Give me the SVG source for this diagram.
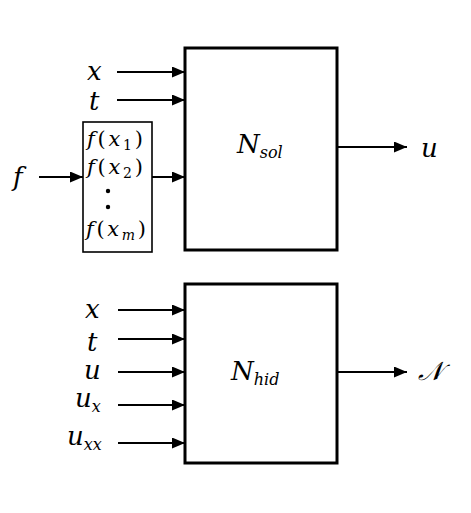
<svg xmlns="http://www.w3.org/2000/svg" width="471" height="513" viewBox="0 0 471 513">
<style>
.m{font-family:"DejaVu Serif","Liberation Serif",serif;font-style:italic;fill:#000}
.big{font-size:26px}
.mid{font-size:21px}
.sub{font-size:16px}
.ss{font-size:14px}
.n{font-style:normal}
.c{stroke:#000;stroke-width:2;fill:none}
.box{stroke:#000;stroke-width:3;fill:#fff}
</style>
<defs>
<marker id="ah" markerWidth="13" markerHeight="11" refX="13" refY="5.5" orient="auto" markerUnits="userSpaceOnUse">
<path d="M0,0 L13,5.5 L0,11 Z" fill="#000"/>
</marker>
</defs>
<g id="connectors">
<line class="c" x1="117" y1="72" x2="185" y2="72" marker-end="url(#ah)"/>
<line class="c" x1="117" y1="100" x2="185" y2="100" marker-end="url(#ah)"/>
<line class="c" x1="39" y1="177" x2="83" y2="177" marker-end="url(#ah)"/>
<line class="c" x1="152" y1="177" x2="185" y2="177" marker-end="url(#ah)"/>
<line class="c" x1="338" y1="147" x2="407" y2="147" marker-end="url(#ah)"/>
<line class="c" x1="118" y1="310" x2="185" y2="310" marker-end="url(#ah)"/>
<line class="c" x1="118" y1="339" x2="185" y2="339" marker-end="url(#ah)"/>
<line class="c" x1="118" y1="372" x2="185" y2="372" marker-end="url(#ah)"/>
<line class="c" x1="118" y1="405" x2="185" y2="405" marker-end="url(#ah)"/>
<line class="c" x1="118" y1="443" x2="185" y2="443" marker-end="url(#ah)"/>
<line class="c" x1="338" y1="372" x2="407" y2="372" marker-end="url(#ah)"/>
</g>
<g id="labels">
<text class="m big" x="87" y="80">x</text>
<text class="m big" x="89" y="110">t</text>
<text class="m big" x="13" y="186">f</text>
<text class="m big" x="421" y="157">u</text>
<text class="m big" x="85" y="318">x</text>
<text class="m big" x="87" y="351">t</text>
<text class="m big" x="84" y="379">u</text>
<text class="m big" x="75" y="407">u<tspan class="sub" dy="5">x</tspan></text>
<text class="m big" x="67" y="445">u<tspan class="sub" dy="5">xx</tspan></text>
<text class="m big" x="418" y="380">𝒩</text>
</g>
<g id="fbox">
<rect x="83" y="122" width="69" height="130" fill="#fff" stroke="#000" stroke-width="1.6"/>
<text class="m mid" x="87" y="146" textLength="56" lengthAdjust="spacing">f<tspan class="n">(</tspan>x<tspan class="ss n" dy="4">1</tspan><tspan class="n" dy="-4">)</tspan></text>
<text class="m mid" x="87" y="174" textLength="56" lengthAdjust="spacing">f<tspan class="n">(</tspan>x<tspan class="ss n" dy="4">2</tspan><tspan class="n" dy="-4">)</tspan></text>
<circle cx="108" cy="191" r="2.2" fill="#000"/>
<circle cx="108" cy="207" r="2.2" fill="#000"/>
<text class="m mid" x="86" y="236" textLength="60" lengthAdjust="spacing">f<tspan class="n">(</tspan>x<tspan class="ss" dy="4">m</tspan><tspan class="n" dy="-4">)</tspan></text>
</g>
<g id="nsol">
<rect class="box" x="185" y="48" width="152" height="202"/>
<text class="m big" x="237" y="153">N<tspan class="sub" dy="5">sol</tspan></text>
</g>
<g id="nhid">
<rect class="box" x="185" y="284" width="152" height="179"/>
<text class="m big" x="231" y="380">N<tspan class="sub" dy="5">hid</tspan></text>
</g>
</svg>
